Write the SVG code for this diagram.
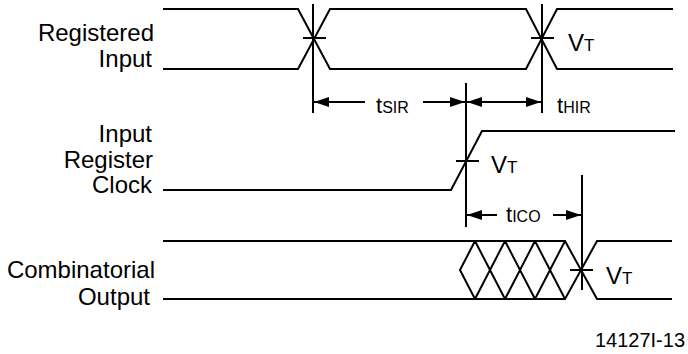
<svg xmlns="http://www.w3.org/2000/svg" width="688" height="354" viewBox="0 0 688 354">
<defs>
<marker id="ah" viewBox="0 0 15 10" refX="15" refY="5" markerWidth="15" markerHeight="10" markerUnits="userSpaceOnUse" orient="auto-start-reverse"><path d="M0,0 L15,5 L0,10 Z" fill="#000"/></marker>
<style>
.w{fill:none;stroke:#000;stroke-width:2;stroke-linejoin:miter}
.l{font-family:"Liberation Sans",Arial,sans-serif;font-size:24px;fill:#000}
.t{font-size:22px}
.s{font-size:16px}
.v{font-size:17px}
.d{stroke:#000;stroke-width:2;fill:none}
</style>
</defs>
<rect width="688" height="354" fill="#fff"/>
<g id="registered-input">
<text class="l" x="154" y="41" text-anchor="end">Registered</text>
<text class="l" x="152" y="67" text-anchor="end">Input</text>
<path class="w" d="M163,9 H298 L330,69 H526 L557,9 H673"/>
<path class="w" d="M163,69 H298 L330,9 H526 L557,69 H673"/>
<path class="w" d="M303,38 H326 M531,38 H554"/>
<text class="l" x="568" y="51">V<tspan class="v">T</tspan></text>
</g>
<g id="input-register-clock">
<text class="l" x="152" y="142" text-anchor="end">Input</text>
<text class="l" x="153" y="168" text-anchor="end">Register</text>
<text class="l" x="152" y="193" text-anchor="end">Clock</text>
<path class="w" d="M163,190 H451 L482,131 H675"/>
<path class="w" d="M456,161 H479"/>
<text class="l" x="491" y="173">V<tspan class="v">T</tspan></text>
</g>
<g id="combinatorial-output">
<text class="l" x="155" y="278" text-anchor="end">Combinatorial</text>
<text class="l" x="150" y="305" text-anchor="end">Output</text>
<path class="w" d="M163,241 H565 L597,299 H672"/>
<path class="w" d="M163,299 H565 L597,241 H672"/>
<path class="w" d="M475,241 L460,270 L475,299 M475,241 L505,299 M475,299 L505,241 M505,241 L535,299 M505,299 L535,241 M535,241 L565,299 M535,299 L565,241"/>
<path class="w" d="M570,270 H593"/>
<text class="l" x="606" y="284">V<tspan class="v">T</tspan></text>
</g>
<g id="connectors">
<path class="d" d="M313,4 V113 M542,4 V113 M466,83 V227 M582,175 V290"/>
<path class="d" d="M365,102 H314" marker-end="url(#ah)"/>
<path class="d" d="M423,102 H465" marker-end="url(#ah)"/>
<path class="d" d="M467,102 H541" marker-start="url(#ah)" marker-end="url(#ah)"/>
<path class="d" d="M497,215 H467" marker-end="url(#ah)"/>
<path class="d" d="M553,215 H581" marker-end="url(#ah)"/>
<text class="l t" x="376" y="113">t<tspan class="s">SIR</tspan></text>
<text class="l t" x="557" y="113">t<tspan class="s">HIR</tspan></text>
<text class="l t" x="506" y="222">t<tspan class="s">ICO</tspan></text>
</g>
<text class="l" x="685" y="347" text-anchor="end" style="font-size:20px">14127I-13</text>
</svg>
